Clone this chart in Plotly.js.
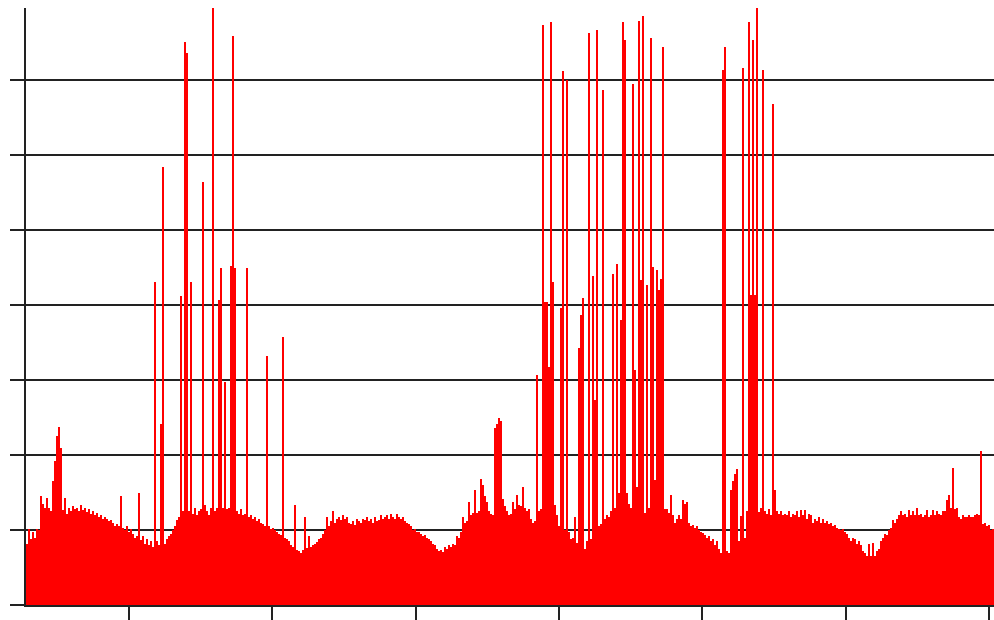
<!DOCTYPE html>
<html>
<head>
<meta charset="utf-8">
<script src="https://cdn.plot.ly/plotly-3.0.1.min.js"></script>
<style>html,body{margin:0;padding:0;background:#fff;}#chart{width:994px;height:620px;}</style>
</head>
<body>
<div id="chart"></div>
<script>
// sample values, one per 20-minute slot
const values = [
  0.82,1.02,0.88,0.97,0.9,1.02,1.0,1.46,1.35,1.3,1.43,1.3,1.25,1.65,1.92,2.25,2.38,2.1,1.27,1.43,
  1.22,1.3,1.25,1.32,1.28,1.3,1.26,1.33,1.27,1.3,1.24,1.28,1.22,1.25,1.2,1.23,1.18,1.2,1.15,1.17,
  1.15,1.12,1.14,1.1,1.05,1.08,1.06,1.45,1.03,1.0,1.05,0.98,1.02,0.95,0.9,0.92,1.5,0.87,0.92,0.82,
  0.88,0.8,0.85,0.78,4.31,0.85,0.8,2.42,5.85,0.82,0.88,0.92,0.95,1.0,1.05,1.14,1.18,4.12,1.25,7.51,
  7.37,1.25,4.31,1.22,1.3,1.2,1.25,1.28,5.64,1.33,1.25,1.2,1.3,7.97,1.25,1.3,4.07,4.5,1.3,2.98,
  1.28,1.3,4.52,7.6,4.5,1.25,1.22,1.28,1.2,1.22,4.5,1.18,1.2,1.15,1.17,1.12,1.15,1.1,1.08,1.05,
  3.32,1.05,1.02,1.03,1.0,0.98,0.95,0.93,3.57,0.9,0.88,0.85,0.8,0.78,1.34,0.74,0.72,0.7,0.73,1.17,
  0.76,0.92,0.78,0.8,0.82,0.84,0.88,0.9,0.95,1.0,1.17,1.05,1.12,1.25,1.1,1.15,1.18,1.13,1.2,1.15,
  1.17,1.1,1.08,1.12,1.07,1.15,1.12,1.1,1.15,1.13,1.17,1.12,1.15,1.1,1.18,1.12,1.13,1.2,1.15,1.17,
  1.2,1.15,1.22,1.17,1.15,1.22,1.18,1.15,1.17,1.12,1.1,1.08,1.05,1.0,1.02,0.98,0.97,0.95,0.92,0.93,
  0.9,0.88,0.85,0.82,0.8,0.75,0.72,0.74,0.71,0.78,0.75,0.8,0.78,0.82,0.8,0.92,0.9,0.98,1.18,1.1,
  1.12,1.37,1.2,1.23,1.53,1.23,1.25,1.68,1.6,1.45,1.38,1.25,1.22,1.2,2.36,2.42,2.5,2.45,1.42,1.32,
  1.25,1.2,1.22,1.37,1.28,1.47,1.33,1.32,1.57,1.3,1.25,1.28,1.15,1.1,1.12,3.07,1.25,1.28,7.74,4.05,
  4.05,3.18,7.78,4.31,1.34,1.2,1.05,3.97,7.12,1.0,7.0,0.98,0.88,0.9,1.17,0.83,3.43,3.87,4.1,0.75,
  0.85,7.63,0.88,4.39,2.74,7.67,1.05,1.08,6.87,1.15,1.2,1.18,1.25,4.42,1.3,4.55,1.5,3.8,7.78,7.54,
  1.5,1.35,1.3,6.95,3.14,1.57,7.8,4.34,7.86,1.23,4.27,1.3,7.57,4.51,1.67,4.47,4.2,4.35,7.44,1.28,
  1.28,1.23,1.47,1.2,1.1,1.15,1.2,1.15,1.4,1.35,1.38,1.1,1.05,1.07,1.03,1.05,1.0,0.98,0.96,0.93,
  0.9,0.92,0.85,0.88,0.8,0.85,0.75,0.7,7.14,7.44,0.72,0.7,1.54,1.65,1.75,1.82,0.85,1.19,7.17,0.9,
  1.25,7.78,4.14,7.54,4.14,7.97,1.24,1.3,7.14,1.25,1.22,1.28,1.2,6.69,1.53,1.25,1.22,1.25,1.2,1.22,
  1.2,1.25,1.18,1.22,1.2,1.25,1.18,1.27,1.2,1.27,1.15,1.22,1.2,1.1,1.15,1.12,1.17,1.1,1.15,1.1,
  1.12,1.08,1.1,1.05,1.07,1.03,1.02,1.0,1.01,0.98,0.95,0.9,0.85,0.9,0.88,0.82,0.85,0.8,0.72,0.7,
  0.66,0.82,0.65,0.83,0.66,0.72,0.75,0.85,0.9,0.95,0.93,1.0,1.03,1.14,1.1,1.15,1.2,1.25,1.2,1.22,
  1.18,1.27,1.2,1.25,1.2,1.3,1.2,1.22,1.17,1.2,1.27,1.18,1.2,1.27,1.2,1.25,1.22,1.2,1.25,1.25,
  1.4,1.47,1.3,1.83,1.28,1.3,1.18,1.15,1.2,1.18,1.17,1.2,1.17,1.18,1.2,1.22,1.2,2.05,1.08,1.1,
  1.05,1.07,1.0,1.02
];
const slots = values.map((v, i) => i);
const slotsPerDay = 71.67;
const firstDayTick = 51;

const trace = {
  type: 'bar',
  x: slots,
  y: values,
  marker: {color: '#ff0000', line: {width: 0}},
  hoverinfo: 'skip'
};

const layout = {
  width: 994,
  height: 620,
  margin: {l: 26, r: 0, t: 8, b: 15, pad: 0},
  paper_bgcolor: '#ffffff',
  plot_bgcolor: '#ffffff',
  showlegend: false,
  bargap: 0,
  xaxis: {
    range: [-0.5, values.length - 0.5],
    showgrid: false,
    zeroline: false,
    showline: true,
    linecolor: '#222222',
    linewidth: 2,
    ticks: 'outside',
    ticklen: 15,
    tickwidth: 2,
    tickcolor: '#222222',
    tick0: firstDayTick,
    dtick: slotsPerDay,
    tickmode: 'linear',
    showticklabels: false,
    fixedrange: true
  },
  yaxis: {
    range: [0, 7.967],
    showgrid: true,
    gridcolor: '#222222',
    gridwidth: 2,
    zeroline: false,
    showline: true,
    linecolor: '#222222',
    linewidth: 2,
    ticks: 'outside',
    ticklen: 14,
    tickwidth: 2,
    tickcolor: '#222222',
    tickmode: 'linear',
    tick0: 0,
    dtick: 1,
    showticklabels: false,
    fixedrange: true
  }
};

Plotly.newPlot('chart', [trace], layout, {displayModeBar: false, staticPlot: true});
</script>
</body>
</html>
